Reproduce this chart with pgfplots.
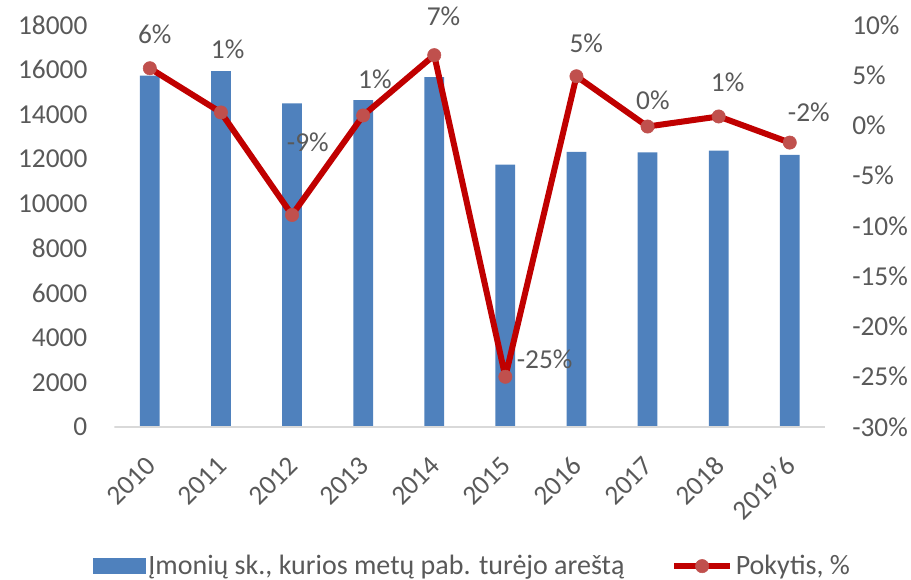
\documentclass[border=0pt]{standalone}
\usepackage{pgfplots}
\pgfplotsset{compat=1.18}
\usepackage{pgfplotstable}
\usepackage{fontspec}
\setmainfont{Carlito}

\definecolor{barblue}{HTML}{4F81BD}
\definecolor{linered}{HTML}{C00000}
\definecolor{markred}{HTML}{C0504D}
\definecolor{txtgray}{HTML}{595959}
\definecolor{axgray}{HTML}{D9D9D9}

% companies with an arrest at year end
\pgfplotstableread{
x val
0 15730
1 15940
2 14490
3 14640
4 15670
5 11750
6 12315
7 12300
8 12375
9 12180
}\bars

% change, % (label text and label offsets in pt)
\pgfplotstableread{
x pct lab dx dy
0 5.7 6 3.75 25.5
1 1.3 1 5 47
2 -8.9 -9 11.8 54.75
3 1.0 1 8.8 27.5
4 7.0 7 7 29
5 -25.0 -25 29.5 13.3
6 4.9 5 7.4 25.1
7 -0.1 0 4 19.3
8 0.9 1 6.75 26
9 -1.7 -2 14.25 23
}\chg

\newcommand{\lblfont}{\fontsize{20.5}{24}\selectfont}
\newcommand{\legfont}{\fontsize{21}{25}\selectfont}

\pgfplotsset{base/.style={
  width=533.25pt, height=301.5pt, scale only axis,
  xmin=-0.5, xmax=9.5,
  axis line style={draw=none}, major tick length=0pt,
  scaled y ticks=false,
  tick label style={font=\lblfont, text=txtgray, inner sep=0pt},
},
linelegend/.style={legend image code/.code={\draw[mark repeat=2, mark phase=2, ##1]
    plot coordinates {(0pt,0pt) (21pt,0pt) (42pt,0pt)};}},
barlegend/.style={legend image code/.code={\fill[barblue] (0pt,-5.6pt) rectangle (39pt,5.6pt);}}
}

\begin{document}
\begin{tikzpicture}
\begin{axis}[base,
  ymin=0, ymax=18000,
  ytick={0,2000,4000,6000,8000,10000,12000,14000,16000,18000},
  yticklabels={0,2000,4000,6000,8000,10000,12000,14000,16000,18000},
  yticklabel style={anchor=east, xshift=-20pt},
  xtick={0,...,9},
  xticklabels={2010,2011,2012,2013,2014,2015,2016,2017,2018,2019'6},
  xticklabel style={xshift=0.75pt, yshift=-25.5pt, rotate=45, anchor=east},
  ybar, bar width=14.8pt]
\addplot[fill=barblue, draw=none] table[x=x, y=val] {\bars};
\draw[axgray, line width=0.9pt] (rel axis cs:0,0) -- (rel axis cs:1,0);
\end{axis}

\begin{axis}[base,
  ymin=-30, ymax=10,
  ytick={-30,-25,-20,-15,-10,-5,0,5,10},
  yticklabels={-30\%,-25\%,-20\%,-15\%,-10\%,-5\%,0\%,5\%,10\%},
  yticklabel pos=right,
  yticklabel style={anchor=west, xshift=20pt},
  xtick=\empty,
  legend columns=2,
  legend style={at={(axis description cs:-0.03,-0.346)}, anchor=west,
    draw=none, fill=none, inner sep=0pt, font=\legfont, text=txtgray,
    /tikz/every even column/.append style={column sep=33pt}}]
\addlegendimage{barlegend}
\addlegendentry{Įmonių sk., kurios metų pab. turėjo areštą}
\addplot[linered, line width=4.5pt, line join=round,
  mark=*, mark size=5pt, mark options={draw=markred, fill=markred, line width=0.4pt},
  linelegend,
  point meta=explicit symbolic,
  visualization depends on={\thisrow{dx}\as\dx},
  visualization depends on={\thisrow{dy}\as\dy},
  nodes near coords={\pgfplotspointmeta\%},
  every node near coord/.append style={anchor=center, inner sep=0pt,
    font=\lblfont, text=txtgray, xshift=\dx pt, yshift=\dy pt}]
  table[x=x, y=pct, meta=lab] {\chg};
\addlegendentry{Pokytis, \%}
\end{axis}
\pgfresetboundingbox
\useasboundingbox (-85.7pt,-114pt) rectangle (597.5pt,320.25pt);
\end{tikzpicture}
\end{document}
